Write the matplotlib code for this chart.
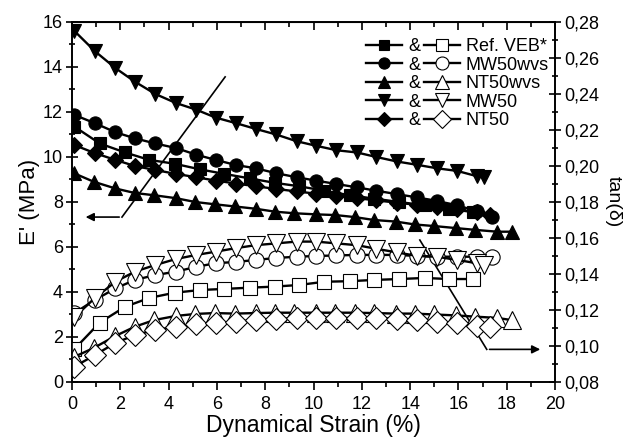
import matplotlib
matplotlib.use('Agg')
import matplotlib.pyplot as plt
from matplotlib.ticker import MultipleLocator, FuncFormatter

plt.rcParams['font.family'] = ['Liberation Sans', 'DejaVu Sans']

# 应变 (%)
x_ref = [0.1, 1.15, 2.2, 3.2, 4.25, 5.3, 6.3, 7.35, 8.4, 9.4, 10.45, 11.5, 12.5, 13.55, 14.6, 15.6, 16.6]
x_mwv = [0.1, 0.95, 1.8, 2.6, 3.45, 4.3, 5.15, 5.95, 6.8, 7.6, 8.45, 9.3, 10.1, 10.95, 11.8, 12.6, 13.45, 14.3, 15.1, 15.95, 16.75, 17.4]
x_ntv = [0.1, 0.9, 1.8, 2.6, 3.4, 4.3, 5.1, 5.9, 6.75, 7.6, 8.4, 9.2, 10.1, 10.9, 11.7, 12.5, 13.4, 14.2, 15.0, 15.9, 16.7, 17.6, 18.2]
x_mw = [0.1, 0.95, 1.8, 2.6, 3.45, 4.3, 5.15, 5.95, 6.8, 7.6, 8.45, 9.3, 10.1, 10.95, 11.8, 12.6, 13.45, 14.3, 15.1, 15.95, 16.75, 17.05]
x_nt = [0.1, 0.95, 1.8, 2.6, 3.45, 4.3, 5.15, 5.95, 6.8, 7.6, 8.45, 9.3, 10.1, 10.95, 11.8, 12.6, 13.45, 14.3, 15.1, 15.95, 16.75, 17.3]

# E' (MPa)
E_ref = [11.35, 10.6, 10.2, 9.87, 9.7, 9.45, 9.25, 9.05, 8.85, 8.7, 8.5, 8.3, 8.15, 8.0, 7.85, 7.7, 7.55]
E_mwv = [11.87, 11.5, 11.1, 10.83, 10.6, 10.4, 10.1, 9.87, 9.64, 9.5, 9.28, 9.1, 8.95, 8.8, 8.65, 8.5, 8.35, 8.2, 8.05, 7.85, 7.6, 7.35]
E_ntv = [9.27, 8.9, 8.6, 8.4, 8.3, 8.17, 8.0, 7.9, 7.8, 7.7, 7.57, 7.5, 7.45, 7.42, 7.33, 7.2, 7.13, 7.0, 6.93, 6.84, 6.76, 6.68, 6.68]
E_mw = [15.6, 14.7, 13.95, 13.35, 12.8, 12.4, 12.1, 11.75, 11.5, 11.25, 11.0, 10.7, 10.5, 10.3, 10.2, 10.0, 9.8, 9.65, 9.5, 9.38, 9.15, 9.1]
E_nt = [10.53, 10.17, 9.87, 9.6, 9.42, 9.25, 9.1, 8.95, 8.82, 8.7, 8.58, 8.47, 8.37, 8.27, 8.17, 8.07, 7.97, 7.87, 7.77, 7.67, 7.55, 7.4]

# tan(δ)
t_ref = [0.0983, 0.113, 0.1218, 0.1267, 0.1296, 0.1311, 0.1317, 0.1324, 0.133, 0.1339, 0.1357, 0.136, 0.1367, 0.1372, 0.1378, 0.1372, 0.1372]
t_mwv = [0.1183, 0.1256, 0.132, 0.1367, 0.1394, 0.1413, 0.144, 0.146, 0.1467, 0.1478, 0.1489, 0.1496, 0.150, 0.1503, 0.1506, 0.1506, 0.1506, 0.1500, 0.1496, 0.1496, 0.1496, 0.1496]
t_ntv = [0.094, 0.0989, 0.1056, 0.1107, 0.1144, 0.1167, 0.1178, 0.1183, 0.118, 0.1183, 0.1185, 0.1185, 0.1185, 0.1185, 0.1185, 0.1183, 0.118, 0.118, 0.1175, 0.117, 0.1163, 0.1156, 0.1144]
t_mw = [0.116, 0.1267, 0.1357, 0.1413, 0.145, 0.1483, 0.1506, 0.1524, 0.1544, 0.156, 0.157, 0.158, 0.158, 0.157, 0.156, 0.154, 0.152, 0.150, 0.1496, 0.1478, 0.146, 0.145]
t_nt = [0.0885, 0.095, 0.1017, 0.1061, 0.1089, 0.1107, 0.1122, 0.1128, 0.1135, 0.1145, 0.115, 0.1155, 0.1156, 0.1156, 0.1156, 0.1156, 0.115, 0.1145, 0.1135, 0.1128, 0.111, 0.1107]

names = ['Ref. VEB*', 'MW50wvs', 'NT50wvs', 'MW50', 'NT50']
markers = ['s', 'o', '^', 'v', 'D']
ms_fill = [8.5, 9.5, 10, 10, 8.5]
ms_open = [10, 11, 12.5, 12.5, 11]
xs = [x_ref, x_mwv, x_ntv, x_mw, x_nt]
Es = [E_ref, E_mwv, E_ntv, E_mw, E_nt]
ts = [t_ref, t_mwv, t_ntv, t_mw, t_nt]

fig = plt.figure(figsize=(6.41, 4.46), dpi=100)
ax = fig.add_axes([0.1123, 0.1435, 0.7537, 0.8072])
ax2 = ax.twinx()

filled, opened = [], []
for x, E, t, m, s1, s2 in zip(xs, Es, ts, markers, ms_fill, ms_open):
    l1, = ax.plot(x, E, color='black', lw=1.7, marker=m, ms=s1,
                  mfc='black', mec='black', mew=0.8)
    l2, = ax2.plot(x, t, color='black', lw=1.7, marker=m, ms=s2,
                   mfc='white', mec='black', mew=0.8)
    filled.append(l1)
    opened.append(l2)

ax.set_xlim(0, 20)
ax.set_ylim(0, 16)
ax2.set_ylim(0.08, 0.28)

ax.xaxis.set_major_locator(MultipleLocator(2))
ax.xaxis.set_minor_locator(MultipleLocator(1))
ax.yaxis.set_major_locator(MultipleLocator(2))
ax.yaxis.set_minor_locator(MultipleLocator(1))
ax2.yaxis.set_major_locator(MultipleLocator(0.02))
ax2.yaxis.set_minor_locator(MultipleLocator(0.01))
ax2.yaxis.set_major_formatter(FuncFormatter(lambda v, p: f'{v:.2f}'.replace('.', ',')))

ax.tick_params(axis='x', which='both', direction='out', top=False, labelsize=13, pad=4)
ax.tick_params(axis='x', which='major', length=6, width=1.2)
ax.tick_params(axis='x', which='minor', length=3.5, width=1.2)
ax.tick_params(axis='y', which='both', direction='inout', right=False, labelsize=13, pad=2)
ax.tick_params(axis='y', which='major', length=9, width=1.2)
ax.tick_params(axis='y', which='minor', length=5, width=1.2)
ax2.tick_params(axis='y', which='both', direction='inout', labelsize=13, pad=2)
ax2.tick_params(axis='y', which='major', length=9, width=1.2)
ax2.tick_params(axis='y', which='minor', length=5, width=1.2)

# 顶部刻度朝内
sec = ax.secondary_xaxis('top')
sec.xaxis.set_major_locator(MultipleLocator(2))
sec.xaxis.set_minor_locator(MultipleLocator(1))
sec.tick_params(which='both', direction='in', labeltop=False, width=1.2)
sec.tick_params(which='major', length=6)
sec.tick_params(which='minor', length=3.5)

for a in (ax, ax2):
    for sp in a.spines.values():
        sp.set_linewidth(1.2)

ax.set_xlabel('Dynamical Strain (%)', fontsize=16.5, labelpad=1)
ax.set_ylabel("E' (MPa)", fontsize=16, labelpad=2)
ax2.set_ylabel('tan(δ)', fontsize=14, rotation=270, labelpad=16)

# 箭头
ax.annotate('', xy=(0.45, 7.33), xytext=(2.07, 7.33),
            arrowprops=dict(arrowstyle='-|>', color='black', lw=1.2, mutation_scale=12))
ax.plot([2.07, 6.34], [7.33, 13.56], color='black', lw=1.2)
ax.annotate('', xy=(19.5, 1.45), xytext=(17.17, 1.45),
            arrowprops=dict(arrowstyle='-|>', color='black', lw=1.2, mutation_scale=12))
ax.plot([14.4, 17.17], [6.31, 1.45], color='black', lw=1.2)

handles = filled + opened
labels = ['&'] * 5 + names
ax2.legend(handles, labels, ncol=2, loc='upper right', bbox_to_anchor=(1.010, 0.985),
           frameon=False, fontsize=13, handlelength=2.0, handletextpad=0.35,
           columnspacing=0.2, labelspacing=0.08, borderaxespad=0.2, markerscale=0.85)

fig.savefig('out.png', dpi=100)
